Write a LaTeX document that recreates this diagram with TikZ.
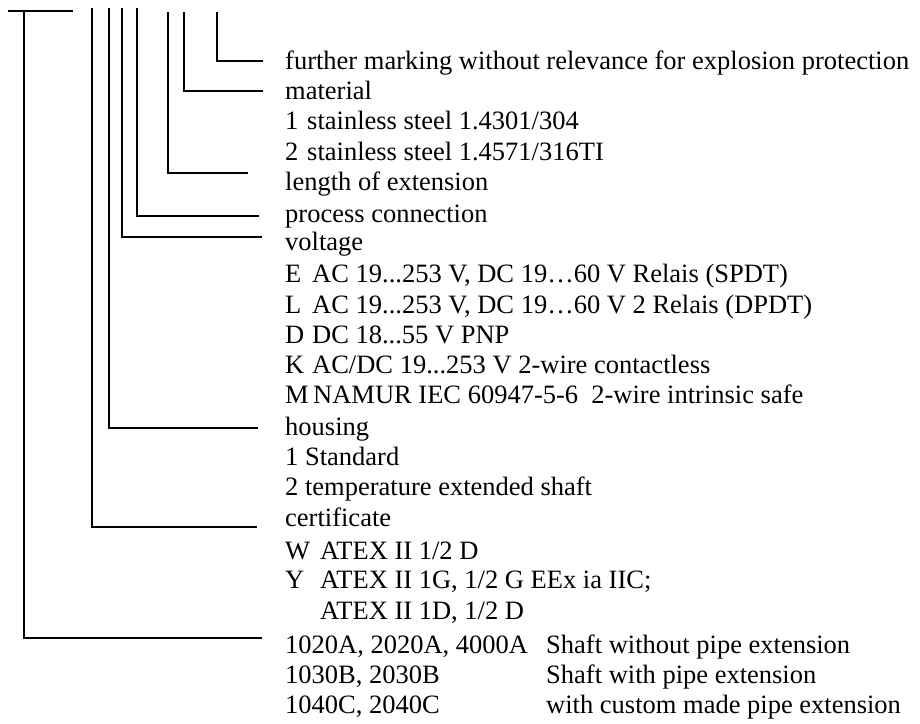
\documentclass[tikz,border=0pt]{standalone}
\usepackage{fontspec}
\setmainfont{Liberation Serif}
\begin{document}
\begin{tikzpicture}[x=1pt,y=-1pt,
  conn/.style={line width=1.5pt, black},
  lbl/.style={anchor=west, inner sep=0pt, text height=17.4pt, text depth=0pt, font=\fontsize{26.5}{30}\selectfont}]
\useasboundingbox (0,0) rectangle (920,723);
\fill[white] (0,0) rectangle (920,723);
% text column
\node[lbl] (further) at (285,61) {further marking without relevance for explosion protection};
\node[lbl] (material) at (285,91) {material};
\node[lbl] (mat1) at (285,121) {\makebox[22pt][l]{1}stainless steel 1.4301/304};
\node[lbl] (mat2) at (285,152) {\makebox[22pt][l]{2}stainless steel 1.4571/316TI};
\node[lbl] (length) at (285,182) {length of extension};
\node[lbl] (process) at (285,214) {process connection};
\node[lbl] (voltage) at (285,242) {voltage};
\node[lbl] (vE) at (285,274) {\makebox[27pt][l]{E}AC 19...253 V, DC 19…60 V Relais (SPDT)};
\node[lbl] (vL) at (285,305) {\makebox[27pt][l]{L}AC 19...253 V, DC 19…60 V 2 Relais (DPDT)};
\node[lbl] (vD) at (285,335) {\makebox[27pt][l]{D}DC 18...55 V PNP};
\node[lbl] (vK) at (285,365) {\makebox[27pt][l]{K}AC/DC 19...253 V 2-wire contactless};
\node[lbl] (vM) at (285,395) {\makebox[28pt][l]{M}NAMUR IEC 60947-5-6\ \ 2-wire intrinsic safe};
\node[lbl] (housing) at (285,427) {housing};
\node[lbl] (hs1) at (285,457) {1 Standard};
\node[lbl] (hs2) at (285,487) {2 temperature extended shaft};
\node[lbl] (certificate) at (285,518) {certificate};
\node[lbl] (cW) at (285,551) {\makebox[35pt][l]{W}ATEX II 1/2 D};
\node[lbl] (cY) at (285,580) {\makebox[35pt][l]{Y}ATEX II 1G, 1/2 G EEx ia IIC;};
\node[lbl] (cY2) at (320,611) {ATEX II 1D, 1/2 D};
\node[lbl] (t1a) at (285,645) {1020A, 2020A, 4000A};
\node[lbl] (t1b) at (546,645) {Shaft without pipe extension};
\node[lbl] (t2a) at (285,675) {1030B, 2030B};
\node[lbl] (t2b) at (546,675) {Shaft with pipe extension};
\node[lbl] (t3a) at (285,705) {1040C, 2040C};
\node[lbl] (t3b) at (546,705) {with custom made pipe extension};
% connector coordinates
\coordinate (tAl) at (8,11);
\coordinate (tAr) at (73,11);
\coordinate (tA) at (24,11);
\coordinate (tB) at (92,8);
\coordinate (tC) at (109,8);
\coordinate (tD) at (122,8);
\coordinate (tE) at (137,8);
\coordinate (tF) at (168,12);
\coordinate (tG) at (184,12);
\coordinate (tH) at (217,12);
\coordinate (eH) at (263,61);
\coordinate (eG) at (263,91);
\coordinate (eF) at (248,173);
\coordinate (eE) at (259,216);
\coordinate (eD) at (262,237);
\coordinate (eC) at (258,428);
\coordinate (eB) at (257,527);
\coordinate (eA) at (262,638);
% connectors
\draw[conn] (tAl) -- (tAr);
\draw[conn] (tA) |- (eA);
\draw[conn] (tB) |- (eB);
\draw[conn] (tC) |- (eC);
\draw[conn] (tD) |- (eD);
\draw[conn] (tE) |- (eE);
\draw[conn] (tF) |- (eF);
\draw[conn] (tG) |- (eG);
\draw[conn] (tH) |- (eH);
\end{tikzpicture}
\end{document}
